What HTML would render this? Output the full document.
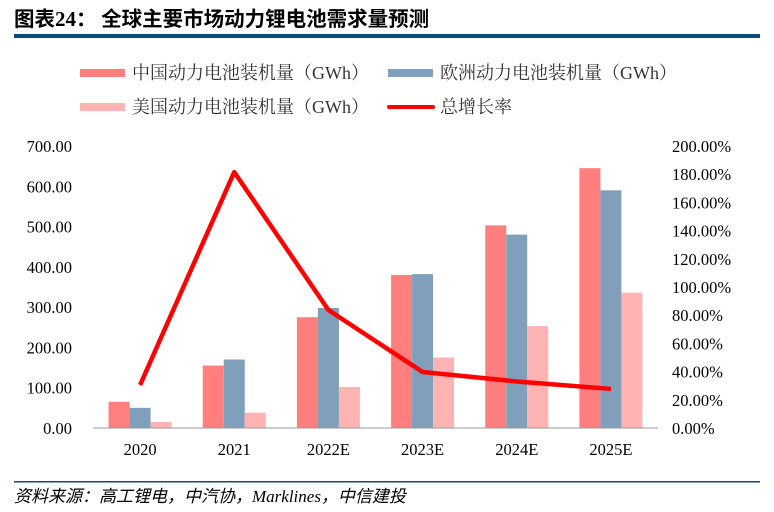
<!DOCTYPE html>
<html><head><meta charset="utf-8"><style>
body{margin:0;background:#fff;width:774px;height:507px;overflow:hidden;font-family:"Liberation Serif","Noto Serif CJK SC",serif;}
</style></head><body>
<svg width="774" height="507" xmlns="http://www.w3.org/2000/svg">
<text x="14" y="26" font-size="20.5" font-weight="bold" font-family="'Noto Sans CJK SC',sans-serif">图表<tspan font-family="'Liberation Serif',serif" font-size="21">24</tspan>：  全球主要市场动力锂电池需求量预测</text>
<rect x="14" y="34" width="746" height="4" fill="#0d4a7c"/>
<g id="legend" font-size="18" font-family="'Liberation Serif','Noto Serif CJK SC',serif" fill="#333"></g>
<g id="grid"></g><g id="bars"></g><g id="line"></g><g id="axes" font-size="16.5" fill="#000"></g>
<rect x="14" y="481" width="746" height="1.5" fill="#0d4a7c"/>
<text x="14" y="502" font-size="17" font-style="italic" font-family="'Liberation Serif','Noto Sans CJK SC',serif">资料来源：高工锂电，中汽协，Marklines，中信建投</text>
</svg>
<script>
const categories=["2020","2021","2022E","2023E","2024E","2025E"];
const chinaValues=[65,155,275,380,503,645];
const europeValues=[50,170,298,382,480,590];
const usValues=[15,38,102,175,253,336];
const growthValues=[30.5,181.5,83.7,39.7,33,27.7];
const leftTicks=[0,100,200,300,400,500,600,700];
const rightTicks=[0,20,40,60,80,100,120,140,160,180,200];
const NS="http://www.w3.org/2000/svg";
const x0=93,x1=658,yb=428,yt=146;
const yL=v=>yb-(v/700)*(yb-yt);
const yR=v=>yb-(v/200)*(yb-yt);
const band=(x1-x0)/categories.length;
const xc=i=>x0+band*(i+0.5);
function mk(t,a,p){const e=document.createElementNS(NS,t);for(const k in a)e.setAttribute(k,a[k]);p.appendChild(e);return e;}
const bars=document.getElementById('bars'),axes=document.getElementById('axes'),line=document.getElementById('line'),leg=document.getElementById('legend');
const series=[[chinaValues,"#ff7f7f","china"],[europeValues,"#7f9fba","europe"],[usValues,"#ffb3b3","us"]];
const bw=21;
categories.forEach((c,i)=>{
 series.forEach((s,j)=>{
  const v=s[0][i];
  const r=mk('rect',{x:xc(i)-1.5*bw+j*bw,y:yL(v),width:bw,height:yb-yL(v),fill:s[1]},bars);
  
  
 });
 const t=mk('text',{x:xc(i),y:455,'text-anchor':'middle'},axes);t.textContent=c;
 
 
});
const ax=mk('line',{x1:x0,x2:x1,y1:yb,y2:yb,stroke:'#999','stroke-width':1},axes);


leftTicks.forEach(v=>{const t=mk('text',{x:72,y:yL(v)+6,'text-anchor':'end'},axes);t.textContent=v.toFixed(2);
 
 });
rightTicks.forEach(v=>{const t=mk('text',{x:672,y:yR(v)+6},axes);t.textContent=v.toFixed(2)+'%';
 
 });
const pl=mk('polyline',{points:growthValues.map((v,i)=>xc(i)+','+yR(v)).join(' '),fill:'none',stroke:'#ff0000','stroke-width':4.5,'stroke-linejoin':'round'},line);


const legItems=[[80,73,"#ff7f7f","中国动力电池装机量（GWh）",'rect'],[388,73,"#7f9fba","欧洲动力电池装机量（GWh）",'rect'],[80,107,"#ffb3b3","美国动力电池装机量（GWh）",'rect'],[388,107,"#ff0000","总增长率",'line']];
legItems.forEach(l=>{
 const g=mk('g',{},leg);
 
 
 if(l[4]==='rect')mk('rect',{x:l[0],y:l[1]-4,width:45,height:8,fill:l[2]},g);
 else mk('line',{x1:l[0]+1,x2:l[0]+45,y1:l[1],y2:l[1],stroke:l[2],'stroke-width':4,'stroke-linecap':'round'},g);
 const t=mk('text',{x:l[0]+52,y:l[1]+6},g);t.textContent=l[3];
});
</script>
</body></html>
